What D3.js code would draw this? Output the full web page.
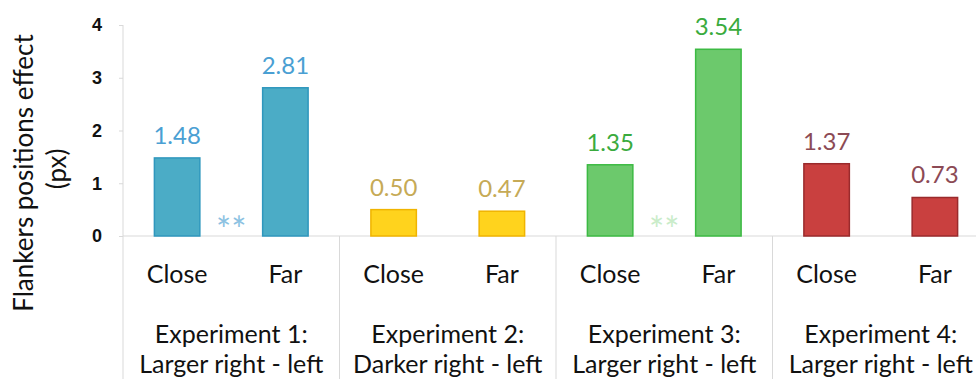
<!DOCTYPE html>
<meta charset="utf-8">
<style>
  body { margin: 0; background: #fff; }
  svg { display: block; font-family: Lato, "Open Sans", sans-serif; }
  .grid line, .grid path { stroke: #d9d9d9; }
  .bar-label { font-size: 24px; text-anchor: middle; }
  .cat-label { font-size: 25px; text-anchor: middle; fill: #111; }
  .exp-label { font-size: 25px; text-anchor: middle; fill: #111; }
  .tick text { font-size: 18px; font-weight: bold; fill: #111; }
</style>
<body>
<script src="https://d3js.org/d3.v7.min.js"></script>
<script>

// data
var experiments = ["Experiment 1:", "Experiment 2:", "Experiment 3:", "Experiment 4:"];
var subtitles = ["Larger right - left", "Darker right - left", "Larger right - left", "Larger right - left"];
var conditions = ["Close", "Far"];
var values = [1.48, 2.81, 0.50, 0.47, 1.35, 3.54, 1.37, 0.73];
var stars = ["**", "", "**", ""];
var yTicks = [0, 1, 2, 3, 4];

var fills   = ["#4bacc6", "#ffd31d", "#6cc96c", "#c9403f"];
var strokes = ["#2f97bd", "#f0b400", "#3cba43", "#9a2a2c"];
var textCol = ["#4a9fd3", "#c6aa56", "#3aab3d", "#8c4a55"];
var starCol = ["#8cc2e2", "", "#c9ecc9", ""];

var W = 976, H = 379;
var left = 123, right = 989, zeroY = 236, topY = 25;

var svg = d3.select("body").append("svg")
    .attr("width", W)
    .attr("height", H);

var bars = values.map(function(v, i) {
  return { key: i, exp: Math.floor(i / 2), cond: conditions[i % 2], val: v };
});

var x = d3.scaleBand()
    .domain(d3.range(values.length))
    .range([left, right])
    .paddingInner(0.58)
    .paddingOuter(0.29);

var xg = d3.scaleBand()
    .domain(d3.range(experiments.length))
    .range([left, right]);

var y = d3.scaleLinear()
    .domain([0, 4])
    .range([zeroY, topY]);

// y axis
var yaxis = d3.axisLeft(y)
    .tickValues(yTicks)
    .tickSize(5)
    .tickPadding(16)
    .tickFormat(d3.format("d"));

var ag = svg.append("g")
    .attr("class", "grid")
    .attr("transform", "translate(" + left + ",0)")
    .call(yaxis);
ag.select(".domain").remove();
ag.selectAll(".tick line").attr("x2", 0).attr("x1", -4);

// vertical axis line continues to the bottom
svg.append("line")
    .attr("x1", left).attr("x2", left)
    .attr("y1", y(4)).attr("y2", H)
    .attr("stroke", "#d9d9d9");

// baseline
svg.append("line")
    .attr("x1", left).attr("x2", W)
    .attr("y1", y(0)).attr("y2", y(0))
    .attr("stroke", "#d9d9d9");

// group dividers
svg.selectAll(".divider")
    .data(d3.range(1, experiments.length))
    .enter().append("line")
    .attr("class", "divider")
    .attr("x1", function(d) { return xg(d); })
    .attr("x2", function(d) { return xg(d); })
    .attr("y1", y(0)).attr("y2", H)
    .attr("stroke", "#d9d9d9");

// bars
svg.selectAll(".bar")
    .data(bars)
    .enter().append("rect")
    .attr("class", "bar")
    .attr("x", function(d) { return x(d.key); })
    .attr("width", x.bandwidth())
    .attr("y", function(d) { return y(d.val); })
    .attr("height", function(d) { return y(0) - y(d.val); })
    .attr("fill", function(d) { return fills[d.exp]; })
    .attr("stroke", function(d) { return strokes[d.exp]; })
    .attr("stroke-width", 1.5);

// value labels
svg.selectAll(".bar-label")
    .data(bars)
    .enter().append("text")
    .attr("class", "bar-label")
    .attr("x", function(d) { return x(d.key) + x.bandwidth() / 2; })
    .attr("y", function(d) { return y(d.val) - 14; })
    .attr("fill", function(d) { return textCol[d.exp]; })
    .text(function(d) { return d.val.toFixed(2); });

// condition labels
svg.selectAll(".cat-label")
    .data(bars)
    .enter().append("text")
    .attr("class", "cat-label")
    .attr("x", function(d) { return x(d.key) + x.bandwidth() / 2; })
    .attr("y", 283)
    .text(function(d) { return d.cond; });

// significance stars
svg.selectAll(".star")
    .data(stars)
    .enter().append("text")
    .attr("class", "star")
    .attr("x", function(d, i) { return xg(i) + xg.bandwidth() / 2; })
    .attr("y", 243)
    .attr("text-anchor", "middle")
    .attr("font-size", 36)
    .attr("fill", function(d, i) { return starCol[i]; })
    .text(function(d) { return d; });

// experiment labels
var eg = svg.selectAll(".exp")
    .data(experiments)
    .enter().append("g")
    .attr("class", "exp")
    .attr("transform", function(d, i) { return "translate(" + (xg(i) + xg.bandwidth() / 2) + ",0)"; });

eg.append("text")
    .attr("class", "exp-label")
    .attr("y", 343)
    .text(function(d) { return d; });

eg.append("text")
    .attr("class", "exp-label")
    .attr("y", 373)
    .text(function(d, i) { return subtitles[i]; });

// y axis title
svg.append("text")
    .attr("transform", "translate(33,173) rotate(-90)")
    .attr("text-anchor", "middle")
    .attr("font-size", 26)
    .attr("fill", "#111")
    .text("Flankers positions effect");

svg.append("text")
    .attr("transform", "translate(66,169) rotate(-90)")
    .attr("text-anchor", "middle")
    .attr("font-size", 26)
    .attr("fill", "#111")
    .text("(px)");

</script>
</body>
